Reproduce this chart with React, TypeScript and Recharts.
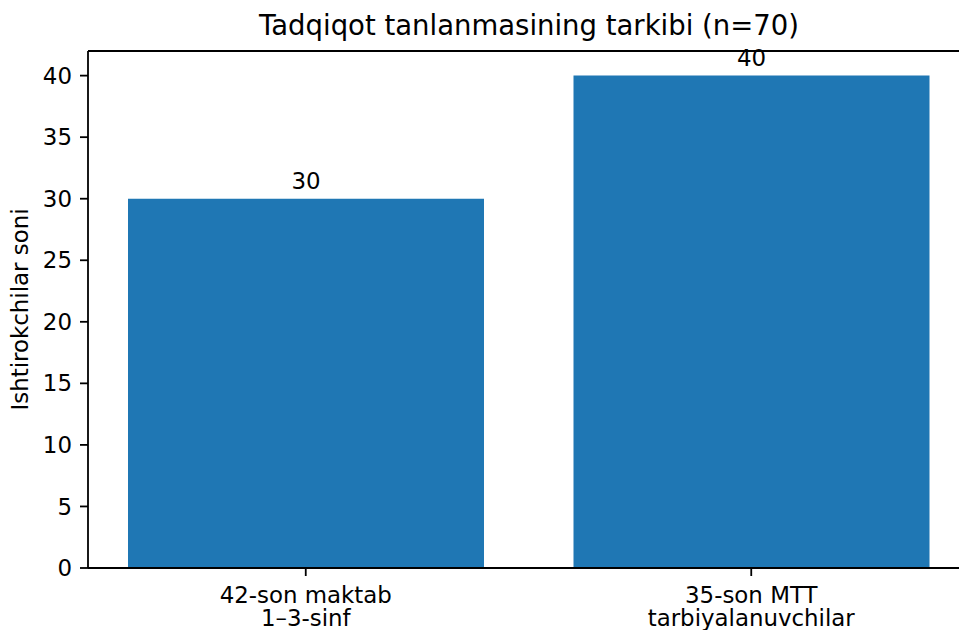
import React from "react";
import { BarChart, Bar, XAxis, YAxis, LabelList, ReferenceLine } from "recharts";

const categories = ["42-son maktab\n1–3-sinf", "35-son MTT\ntarbiyalanuvchilar"];
const counts = [30, 40];
const yTicks = [0, 5, 10, 15, 20, 25, 30, 35, 40];
const title = "Tadqiqot tanlanmasining tarkibi (n=70)";
const yLabel = "Ishtirokchilar soni";

const data = categories.map((name, i) => ({ name, value: counts[i] }));

const FONT = "DejaVu Sans";
const FS = 22.9;
const LW = 1.8;

const XTick = (props: any) => {
  const { x, y, payload } = props;
  const lines = String(payload.value).split("\n");
  return (
    <text x={x} y={y} textAnchor="middle" fontFamily={FONT} fontSize={FS} fill="#000">
      {lines.map((l: string, i: number) => (
        <tspan key={i} x={x} y={y + 18.5 + i * 23.5}>
          {l}
        </tspan>
      ))}
    </text>
  );
};

export default function App() {
  return (
    <div style={{ position: "absolute", left: 0, top: 0, width: 959, height: 630, overflow: "hidden", background: "#fff" }}>
      <BarChart
        width={985}
        height={630}
        data={data}
        margin={{ top: 51, right: 16, bottom: 0, left: 0 }}
      >
        <XAxis
          dataKey="name"
          padding={{ left: -5, right: -5 }}
          height={62}
          tickSize={8}
          tickMargin={8}
          axisLine={{ stroke: "#000", strokeWidth: LW }}
          tickLine={{ stroke: "#000", strokeWidth: LW }}
          tick={<XTick />}
          interval={0}
        />
        <YAxis
          width={88}
          domain={[0, 42]}
          ticks={yTicks}
          tickSize={8}
          tickMargin={8}
          allowDataOverflow
          axisLine={{ stroke: "#000", strokeWidth: LW }}
          tickLine={{ stroke: "#000", strokeWidth: LW }}
          tick={{ fill: "#000", fontSize: FS, fontFamily: FONT }}
        />
        <ReferenceLine y={42} stroke="#000" strokeWidth={LW} ifOverflow="visible" />
        <Bar dataKey="value" fill="#1f77b4" barSize={356} isAnimationActive={false}>
          <LabelList dataKey="value" position="top" offset={9.5} fill="#000" fontSize={FS} fontFamily={FONT} />
        </Bar>
      </BarChart>
      <svg width={959} height={630} style={{ position: "absolute", left: 0, top: 0, pointerEvents: "none" }}>
        <text x={529} y={35} textAnchor="middle" fontFamily={FONT} fontSize={27.5} fill="#000">
          {title}
        </text>
        <text
          x={0}
          y={0}
          transform="translate(28,309.5) rotate(-90)"
          textAnchor="middle"
          fontFamily={FONT}
          fontSize={FS}
          fill="#000"
        >
          {yLabel}
        </text>
      </svg>
    </div>
  );
}
